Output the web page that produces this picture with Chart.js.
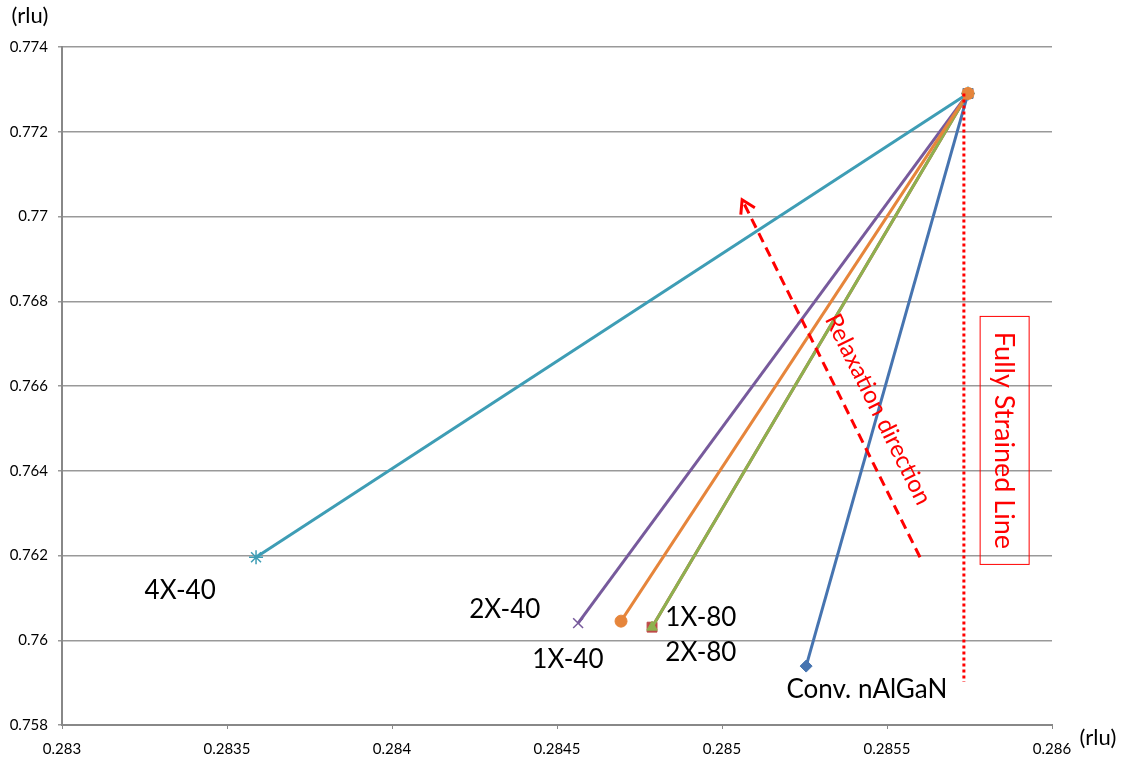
<!DOCTYPE html>
<html lang="en">
<head>
<meta charset="UTF-8">
<title>Reciprocal space map - relaxation</title>
<script src="https://cdn.jsdelivr.net/npm/chart.js"></script>
<style>
    body { margin: 0; background: #fff; }
    .chart-box { width: 1122px; height: 759px; position: relative; }
</style>
</head>
<body>
<div class="chart-box"><canvas id="rsmChart"></canvas></div>
<script>
// sample names and their measured (Qx, Qz) positions, in rlu
const seriesNames = ['Conv. nAlGaN', '1X-80', '2X-80', '1X-40', '4X-40', '2X-40'];
const sampleQx = [0.285255, 0.284788, 0.284788, 0.284564, 0.283588, 0.284694];
const sampleQz = [0.759390, 0.760309, 0.760309, 0.760404, 0.761959, 0.760451];
// fully strained reference point (all lines end here)
const strainedQx = 0.2857455;
const strainedQz = 0.772904;
// fully strained line (red dotted) and relaxation arrow (red dashed)
const strainedLineX = [0.285733, 0.285733];
const strainedLineY = [0.772904, 0.759013];
const arrowX = [0.285600, 0.285061];
const arrowY = [0.761959, 0.770395];
// axis ticks
const xTicks = [0.283, 0.2835, 0.284, 0.2845, 0.285, 0.2855, 0.286];
const yTicks = [0.758, 0.76, 0.762, 0.764, 0.766, 0.768, 0.77, 0.772, 0.774];

const colors = ['#4674b0', '#be4b48', '#8eb14f', '#775a9c', '#3e9db5', '#e6853b'];
const markers = ['rectRot', 'rect', 'triangle', 'crossRot', 'star', 'circle'];
const drawOrder = [3, 5, 4, 2, 1, 0];

const fontFam = 'Lato, "Open Sans", sans-serif';

const datasets = seriesNames.map((name, i) => ({
    label: name,
    data: [{x: sampleQx[i], y: sampleQz[i]}, {x: strainedQx, y: strainedQz}],
    showLine: true,
    borderColor: colors[i],
    backgroundColor: colors[i],
    borderWidth: 3,
    pointStyle: markers[i],
    pointRadius: (markers[i] === 'crossRot' || markers[i] === 'star') ? 7 : (markers[i] === 'rect' ? 7 : 6),
    pointBorderWidth: (markers[i] === 'crossRot' || markers[i] === 'star') ? 1.5 : 1,
    order: drawOrder[i]
}));

datasets.push({
    label: 'Fully strained',
    data: strainedLineX.map((x, i) => ({x: x, y: strainedLineY[i]})),
    showLine: true,
    borderColor: '#ff0000',
    borderWidth: 3,
    borderDash: [3, 3],
    pointRadius: 0,
    order: -2
});
datasets.push({
    label: 'Relaxation',
    data: arrowX.map((x, i) => ({x: x, y: arrowY[i]})),
    showLine: true,
    borderColor: '#ff0000',
    borderWidth: 3,
    borderDash: [10, 6],
    pointRadius: 0,
    order: -1
});

// annotation labels: text + anchor in data units
const notes = [
    {text: '4X-40', x: 0.283358, y: 0.761181},
    {text: '2X-40', x: 0.284342, y: 0.760733},
    {text: '1X-40', x: 0.284533, y: 0.759532},
    {text: '1X-80', x: 0.284936, y: 0.760545},
    {text: '2X-80', x: 0.284936, y: 0.759720},
    {text: 'Conv. nAlGaN', x: 0.285439, y: 0.758825}
];

const fmt = v => parseFloat(v.toFixed(4)).toString();

const annotate = {
    id: 'annotate',
    afterDatasetsDraw(chart) {
        const c = chart.ctx, xs = chart.scales.x, ys = chart.scales.y;
        c.save();
        c.textAlign = 'center';
        c.textBaseline = 'middle';
        c.fillStyle = '#000';
        c.font = '26px ' + fontFam;
        notes.forEach(n => c.fillText(n.text, xs.getPixelForValue(n.x), ys.getPixelForValue(n.y)));

        // arrow head
        const x0 = xs.getPixelForValue(arrowX[0]), y0 = ys.getPixelForValue(arrowY[0]);
        const x1 = xs.getPixelForValue(arrowX[1]), y1 = ys.getPixelForValue(arrowY[1]);
        const ang = Math.atan2(y1 - y0, x1 - x0);
        const len = 15, spread = 0.55;
        c.strokeStyle = '#ff0000';
        c.lineWidth = 3;
        c.setLineDash([]);
        c.beginPath();
        c.moveTo(x1 - len * Math.cos(ang - spread), y1 - len * Math.sin(ang - spread));
        c.lineTo(x1, y1);
        c.lineTo(x1 - len * Math.cos(ang + spread), y1 - len * Math.sin(ang + spread));
        c.stroke();

        // rotated "Relaxation direction"
        c.fillStyle = '#ff0000';
        c.font = '24px ' + fontFam;
        c.save();
        c.translate(xs.getPixelForValue(0.285473), ys.getPixelForValue(0.765446));
        c.rotate(Math.atan2(y0 - y1, x0 - x1));
        c.fillText('Relaxation direction', 0, 0);
        c.restore();

        // boxed vertical "Fully Strained Line"
        c.save();
        c.translate(xs.getPixelForValue(0.285858), ys.getPixelForValue(0.764716));
        c.rotate(Math.PI / 2);
        c.lineWidth = 1;
        c.strokeRect(-124, -24, 248, 49);
        c.font = '27px ' + fontFam;
        c.fillText('Fully Strained Line', 0, 1);
        c.restore();

        // axis unit labels
        c.fillStyle = '#000';
        c.font = '22px ' + fontFam;
        c.fillText('(rlu)', 30, 16);
        c.fillText('(rlu)', 1098, 738);
        c.restore();
    }
};

new Chart(document.getElementById('rsmChart'), {
    type: 'scatter',
    data: {datasets: datasets},
    options: {
        responsive: true,
        maintainAspectRatio: false,
        animation: false,
        layout: {padding: {top: 47, right: 70, left: 0, bottom: 0}},
        plugins: {legend: {display: false}, tooltip: {enabled: false}},
        scales: {
            x: {
                type: 'linear',
                min: xTicks[0],
                max: xTicks[xTicks.length - 1],
                afterBuildTicks: s => { s.ticks = xTicks.map(v => ({value: v})); },
                afterFit: s => { s.height = 34; },
                ticks: {
                    callback: fmt,
                    maxRotation: 0,
                    autoSkip: false,
                    padding: 11,
                    color: '#000',
                    font: {family: fontFam, size: 15}
                },
                grid: {drawOnChartArea: false, tickLength: 4, color: '#888'},
                border: {color: '#888', width: 2}
            },
            y: {
                type: 'linear',
                min: yTicks[0],
                max: yTicks[yTicks.length - 1],
                afterBuildTicks: s => { s.ticks = yTicks.map(v => ({value: v})); },
                afterFit: s => { s.width = 62; },
                ticks: {
                    callback: fmt,
                    autoSkip: false,
                    padding: 10,
                    color: '#000',
                    font: {family: fontFam, size: 15}
                },
                grid: {tickLength: 4, color: '#999', lineWidth: 1.5},
                border: {color: '#888', width: 2}
            }
        }
    },
    plugins: [annotate]
});
</script>
</body>
</html>
